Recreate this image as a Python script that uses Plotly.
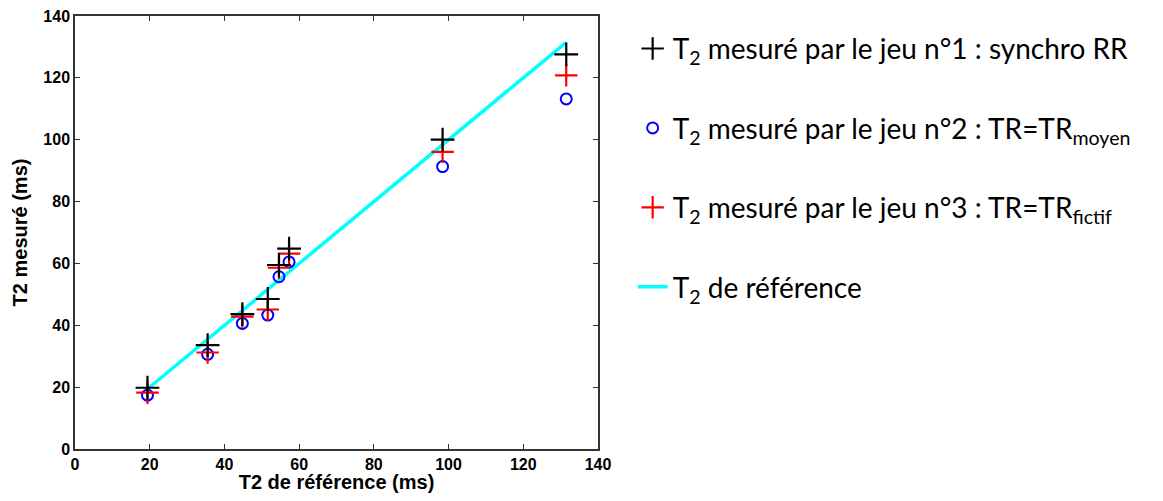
import plotly.graph_objects as go

t2_ref = [19.4, 35.5, 44.8, 51.6, 54.6, 57.3, 98.4, 131.5]
jeu1 = [19.8, 33.6, 43.6, 48.5, 59.5, 64.8, 100.0, 127.6]
jeu2 = [17.4, 30.6, 40.6, 43.3, 55.7, 60.5, 91.3, 113.2]
jeu3 = [18.2, 31.2, 42.8, 45.1, 58.6, 63.2, 96.1, 120.8]
ref_line_x = [19.4, 131.5]
ref_line_y = [19.4, 131.5]

names = [
    "T<sub>2</sub> mesuré par le jeu n°1 : synchro RR",
    "T<sub>2</sub> mesuré par le jeu n°2 : TR=TR<sub>moyen</sub>",
    "T<sub>2</sub> mesuré par le jeu n°3 : TR=TR<sub>fictif</sub>",
    "T<sub>2</sub> de référence",
]

fig = go.Figure()
fig.add_trace(go.Scatter(x=ref_line_x, y=ref_line_y, mode="lines",
                         line=dict(color="#00ffff", width=3.5),
                         name=names[3], legendrank=4, legendgroup="d"))
fig.add_trace(go.Scatter(x=t2_ref, y=jeu2, mode="markers",
                         marker=dict(symbol="circle-open", size=11, color="#0000ff",
                                     line=dict(width=2, color="#0000ff")),
                         name=names[1], legendrank=2, legendgroup="b"))
fig.add_trace(go.Scatter(x=t2_ref, y=jeu3, mode="markers",
                         marker=dict(symbol="cross-thin", size=16, color="#ff0000",
                                     line=dict(width=2.2, color="#ff0000")),
                         name=names[2], legendrank=3, legendgroup="c"))
fig.add_trace(go.Scatter(x=t2_ref, y=jeu1, mode="markers",
                         marker=dict(symbol="cross-thin", size=17, color="#000000",
                                     line=dict(width=2.2, color="#000000")),
                         name=names[0], legendrank=1, legendgroup="a"))

axis_common = dict(
    showline=True, linecolor="#333333", linewidth=1.5, mirror="ticks",
    ticks="inside", ticklen=5, tickcolor="#333333", tickwidth=1,
    showgrid=False, zeroline=False, automargin=False,
    ticklabeloverflow="allow",
    tickfont=dict(family="Liberation Sans", size=16, color="black", weight="bold"),
    range=[0, 140], dtick=20,
)

fig.update_xaxes(**axis_common,
                 title=dict(text="T2 de référence (ms)", standoff=8,
                            font=dict(family="Liberation Sans", size=20, color="black", weight="bold")))
fig.update_yaxes(**axis_common,
                 title=dict(text="T2 mesuré (ms)", standoff=10,
                            font=dict(family="Liberation Sans", size=20, color="black", weight="bold")))

fig.update_layout(
    width=1147, height=485,
    margin=dict(l=67, r=557, t=8, b=44, autoexpand=False),
    plot_bgcolor="white", paper_bgcolor="white",
    legend=dict(xref="container", x=0.5446, y=0.982, xanchor="left", yanchor="top",
                font=dict(family="Lato", size=28, color="black"),
                tracegroupgap=40, traceorder="grouped",
                bgcolor="rgba(0,0,0,0)"),
    showlegend=True,
)

fig.write_html("out.html")
